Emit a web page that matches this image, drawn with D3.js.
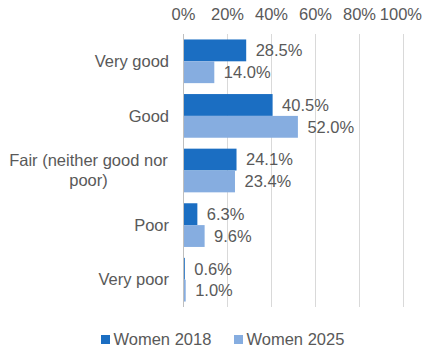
<!DOCTYPE html>
<html>
<head>
<meta charset="utf-8">
<script src="https://cdn.jsdelivr.net/npm/d3@7"></script>
<style>
  body { margin: 0; background: #fff; }
  text { font-family: "Liberation Sans", Arial, sans-serif; fill: #595959; }
</style>
</head>
<body>
<script>
const categories = ["Very good", "Good", "Fair (neither good nor poor)", "Poor", "Very poor"];
const women2018 = [28.5, 40.5, 24.1, 6.3, 0.6];
const women2025 = [14.0, 52.0, 23.4, 9.6, 1.0];
const seriesNames = ["Women 2018", "Women 2025"];
const tickValues = [0, 20, 40, 60, 80, 100];

const WIDTH = 423, HEIGHT = 351;
const colors = ["#1b6ec2", "#86ade0"];
const fontSize = 16.5;

const svg = d3.select("body").append("svg")
  .attr("width", WIDTH).attr("height", HEIGHT);

const x = d3.scaleLinear().domain([0, 100]).range([183.5, 403.5]);
const y = d3.scaleBand().domain(categories).range([34, 307])
  .paddingInner(0.2).paddingOuter(0.1);
const sub = d3.scaleBand().domain([0, 1]).range([0, y.bandwidth()]);

// gridlines
svg.append("g").selectAll("line")
  .data(tickValues.slice(1))
  .enter().append("line")
  .attr("x1", d => x(d)).attr("x2", d => x(d))
  .attr("y1", 34).attr("y2", 307)
  .attr("stroke", "#d9d9d9").attr("stroke-width", 1);

// top tick labels (last one kept inside the window)
svg.append("g").selectAll("text")
  .data(tickValues)
  .enter().append("text")
  .attr("x", (d, i) => i === tickValues.length - 1 ? WIDTH - 1 : x(d))
  .attr("y", 20)
  .attr("text-anchor", (d, i) => i === tickValues.length - 1 ? "end" : "middle")
  .style("font-size", fontSize + "px")
  .text(d => d + "%");

// bars
const rows = categories.map((c, i) => ({ c, vals: [women2018[i], women2025[i]] }));
const groups = svg.append("g").selectAll("g")
  .data(rows)
  .enter().append("g")
  .attr("transform", d => `translate(0,${y(d.c)})`);

groups.selectAll("rect")
  .data(d => d.vals)
  .enter().append("rect")
  .attr("x", x(0))
  .attr("y", (d, i) => sub(i))
  .attr("width", d => x(d) - x(0))
  .attr("height", sub.bandwidth())
  .attr("fill", (d, i) => colors[i]);

groups.selectAll("text")
  .data(d => d.vals)
  .enter().append("text")
  .attr("x", d => x(d) + 9.5)
  .attr("y", (d, i) => sub(i) + sub.bandwidth() / 2)
  .attr("dy", "0.35em")
  .style("font-size", fontSize + "px")
  .text(d => d.toFixed(1) + "%");

// axis line
svg.append("line")
  .attr("x1", x(0)).attr("x2", x(0))
  .attr("y1", 34).attr("y2", 307)
  .attr("stroke", "#bfbfbf");

// category labels (long one wraps, lines centred like Excel)
const wrapped = {
  "Fair (neither good nor poor)": ["Fair (neither good nor", "poor)"]
};
categories.forEach(c => {
  const lines = wrapped[c] || [c];
  const cy = y(c) + y.bandwidth() / 2;
  const t = svg.append("text")
    .style("font-size", fontSize + "px")
    .attr("text-anchor", lines.length > 1 ? "middle" : "end");
  if (lines.length === 1) {
    t.attr("x", 169).attr("y", cy).attr("dy", "0.35em").text(c);
  } else {
    t.attr("x", 88.5);
    lines.forEach((l, k) => {
      t.append("tspan")
        .attr("x", 88.5)
        .attr("y", cy + (k - (lines.length - 1) / 2) * 20)
        .attr("dy", "0.35em")
        .text(l);
    });
  }
});

// legend
const legendX = [101, 234];
const leg = svg.append("g").selectAll("g")
  .data(seriesNames)
  .enter().append("g")
  .attr("transform", (d, i) => `translate(${legendX[i]},335)`);
leg.append("rect")
  .attr("width", 9).attr("height", 9)
  .attr("fill", (d, i) => colors[i]);
leg.append("text")
  .attr("x", 12.5).attr("y", 4.5).attr("dy", "0.35em")
  .style("font-size", fontSize + "px")
  .text(d => d);
</script>
</body>
</html>
